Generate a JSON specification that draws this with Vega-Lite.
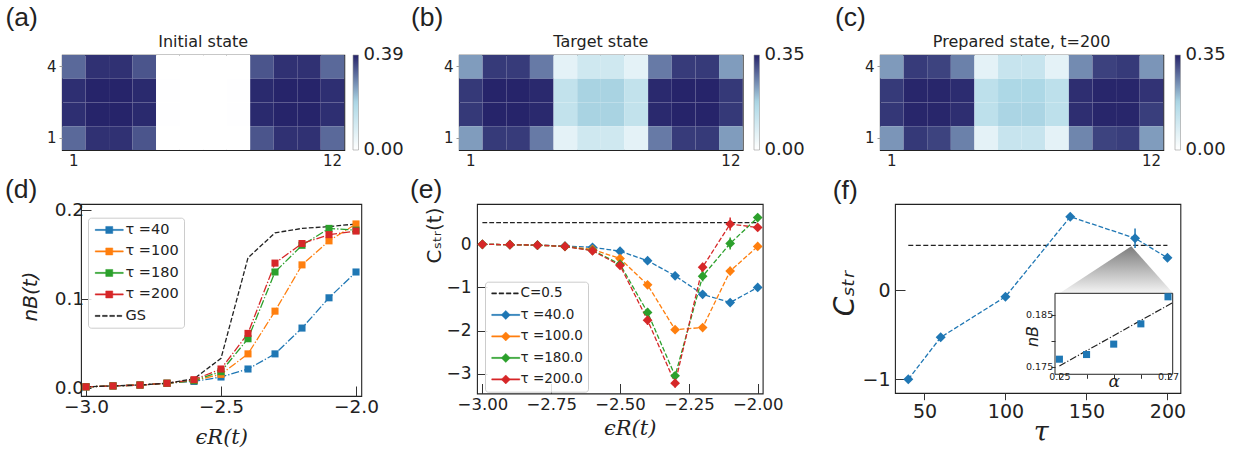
{
"$schema": "https://vega.github.io/schema/vega-lite/v6.json",
"background": "white",
"padding": {"left": 0, "top": 4, "right": 0, "bottom": 0},
"config": {
  "view": {"stroke": "#222222", "strokeWidth": 1.1},
  "axis": {"domain": false, "grid": false, "labelFont": "DejaVu Sans", "labelColor": "#222222", "tickColor": "#333333", "labelFlush": false, "labelOverlap": false, "titleFontWeight": "normal", "titleColor": "#222222", "titleFont": "DejaVu Sans"},
  "legend": {"labelFont": "DejaVu Sans", "labelColor": "#222222", "titleFontWeight": "normal"},
  "title": {"font": "DejaVu Sans", "fontWeight": "normal", "color": "#222222"}
},
"datasets": {
  "ha": [
    {"c":1,"r":4,"v":0.315},{"c":2,"r":4,"v":0.376},{"c":3,"r":4,"v":0.376},{"c":4,"r":4,"v":0.337},{"c":5,"r":4,"v":0},{"c":6,"r":4,"v":0},{"c":7,"r":4,"v":0},{"c":8,"r":4,"v":0},{"c":9,"r":4,"v":0.337},{"c":10,"r":4,"v":0.376},{"c":11,"r":4,"v":0.376},{"c":12,"r":4,"v":0.315},
    {"c":1,"r":3,"v":0.378},{"c":2,"r":3,"v":0.39},{"c":3,"r":3,"v":0.39},{"c":4,"r":3,"v":0.384},{"c":5,"r":3,"v":0.003},{"c":6,"r":3,"v":0},{"c":7,"r":3,"v":0},{"c":8,"r":3,"v":0.003},{"c":9,"r":3,"v":0.384},{"c":10,"r":3,"v":0.39},{"c":11,"r":3,"v":0.39},{"c":12,"r":3,"v":0.378},
    {"c":1,"r":2,"v":0.378},{"c":2,"r":2,"v":0.39},{"c":3,"r":2,"v":0.39},{"c":4,"r":2,"v":0.384},{"c":5,"r":2,"v":0.003},{"c":6,"r":2,"v":0},{"c":7,"r":2,"v":0},{"c":8,"r":2,"v":0.003},{"c":9,"r":2,"v":0.384},{"c":10,"r":2,"v":0.39},{"c":11,"r":2,"v":0.39},{"c":12,"r":2,"v":0.378},
    {"c":1,"r":1,"v":0.315},{"c":2,"r":1,"v":0.376},{"c":3,"r":1,"v":0.376},{"c":4,"r":1,"v":0.337},{"c":5,"r":1,"v":0},{"c":6,"r":1,"v":0},{"c":7,"r":1,"v":0},{"c":8,"r":1,"v":0},{"c":9,"r":1,"v":0.337},{"c":10,"r":1,"v":0.376},{"c":11,"r":1,"v":0.376},{"c":12,"r":1,"v":0.315}
  ],
  "hb": [
    {"c":1,"r":4,"v":0.233},{"c":2,"r":4,"v":0.329},{"c":3,"r":4,"v":0.328},{"c":4,"r":4,"v":0.266},{"c":5,"r":4,"v":0.058},{"c":6,"r":4,"v":0.103},{"c":7,"r":4,"v":0.103},{"c":8,"r":4,"v":0.058},{"c":9,"r":4,"v":0.266},{"c":10,"r":4,"v":0.328},{"c":11,"r":4,"v":0.329},{"c":12,"r":4,"v":0.233},
    {"c":1,"r":3,"v":0.33},{"c":2,"r":3,"v":0.35},{"c":3,"r":3,"v":0.35},{"c":4,"r":3,"v":0.345},{"c":5,"r":3,"v":0.13},{"c":6,"r":3,"v":0.18},{"c":7,"r":3,"v":0.18},{"c":8,"r":3,"v":0.13},{"c":9,"r":3,"v":0.345},{"c":10,"r":3,"v":0.35},{"c":11,"r":3,"v":0.35},{"c":12,"r":3,"v":0.33},
    {"c":1,"r":2,"v":0.33},{"c":2,"r":2,"v":0.35},{"c":3,"r":2,"v":0.35},{"c":4,"r":2,"v":0.345},{"c":5,"r":2,"v":0.13},{"c":6,"r":2,"v":0.18},{"c":7,"r":2,"v":0.18},{"c":8,"r":2,"v":0.13},{"c":9,"r":2,"v":0.345},{"c":10,"r":2,"v":0.35},{"c":11,"r":2,"v":0.35},{"c":12,"r":2,"v":0.33},
    {"c":1,"r":1,"v":0.233},{"c":2,"r":1,"v":0.329},{"c":3,"r":1,"v":0.328},{"c":4,"r":1,"v":0.266},{"c":5,"r":1,"v":0.058},{"c":6,"r":1,"v":0.103},{"c":7,"r":1,"v":0.103},{"c":8,"r":1,"v":0.058},{"c":9,"r":1,"v":0.266},{"c":10,"r":1,"v":0.328},{"c":11,"r":1,"v":0.329},{"c":12,"r":1,"v":0.233}
  ],
  "hc": [
    {"c":1,"r":4,"v":0.235},{"c":2,"r":4,"v":0.328},{"c":3,"r":4,"v":0.32},{"c":4,"r":4,"v":0.26},{"c":5,"r":4,"v":0.058},{"c":6,"r":4,"v":0.12},{"c":7,"r":4,"v":0.12},{"c":8,"r":4,"v":0.058},{"c":9,"r":4,"v":0.25},{"c":10,"r":4,"v":0.322},{"c":11,"r":4,"v":0.329},{"c":12,"r":4,"v":0.24},
    {"c":1,"r":3,"v":0.329},{"c":2,"r":3,"v":0.348},{"c":3,"r":3,"v":0.348},{"c":4,"r":3,"v":0.342},{"c":5,"r":3,"v":0.14},{"c":6,"r":3,"v":0.175},{"c":7,"r":3,"v":0.175},{"c":8,"r":3,"v":0.14},{"c":9,"r":3,"v":0.34},{"c":10,"r":3,"v":0.348},{"c":11,"r":3,"v":0.348},{"c":12,"r":3,"v":0.335},
    {"c":1,"r":2,"v":0.332},{"c":2,"r":2,"v":0.348},{"c":3,"r":2,"v":0.348},{"c":4,"r":2,"v":0.34},{"c":5,"r":2,"v":0.14},{"c":6,"r":2,"v":0.178},{"c":7,"r":2,"v":0.178},{"c":8,"r":2,"v":0.14},{"c":9,"r":2,"v":0.34},{"c":10,"r":2,"v":0.348},{"c":11,"r":2,"v":0.348},{"c":12,"r":2,"v":0.325},
    {"c":1,"r":1,"v":0.24},{"c":2,"r":1,"v":0.33},{"c":3,"r":1,"v":0.32},{"c":4,"r":1,"v":0.26},{"c":5,"r":1,"v":0.058},{"c":6,"r":1,"v":0.12},{"c":7,"r":1,"v":0.12},{"c":8,"r":1,"v":0.058},{"c":9,"r":1,"v":0.255},{"c":10,"r":1,"v":0.32},{"c":11,"r":1,"v":0.325},{"c":12,"r":1,"v":0.233}
  ],
  "dd": [
    {"s":"τ =40","x":-3.0,"y":0.001},{"s":"τ =40","x":-2.9,"y":0.002},{"s":"τ =40","x":-2.8,"y":0.003},{"s":"τ =40","x":-2.7,"y":0.005},{"s":"τ =40","x":-2.6,"y":0.007},{"s":"τ =40","x":-2.5,"y":0.012},{"s":"τ =40","x":-2.4,"y":0.021},{"s":"τ =40","x":-2.3,"y":0.038},{"s":"τ =40","x":-2.2,"y":0.067},{"s":"τ =40","x":-2.1,"y":0.101},{"s":"τ =40","x":-2.0,"y":0.130},
    {"s":"τ =100","x":-3.0,"y":0.001},{"s":"τ =100","x":-2.9,"y":0.002},{"s":"τ =100","x":-2.8,"y":0.003},{"s":"τ =100","x":-2.7,"y":0.005},{"s":"τ =100","x":-2.6,"y":0.008},{"s":"τ =100","x":-2.5,"y":0.015},{"s":"τ =100","x":-2.4,"y":0.038},{"s":"τ =100","x":-2.3,"y":0.086},{"s":"τ =100","x":-2.2,"y":0.138},{"s":"τ =100","x":-2.1,"y":0.165},{"s":"τ =100","x":-2.0,"y":0.184},
    {"s":"τ =180","x":-3.0,"y":0.001},{"s":"τ =180","x":-2.9,"y":0.002},{"s":"τ =180","x":-2.8,"y":0.003},{"s":"τ =180","x":-2.7,"y":0.005},{"s":"τ =180","x":-2.6,"y":0.008},{"s":"τ =180","x":-2.5,"y":0.018},{"s":"τ =180","x":-2.4,"y":0.055},{"s":"τ =180","x":-2.3,"y":0.130},{"s":"τ =180","x":-2.2,"y":0.160},{"s":"τ =180","x":-2.1,"y":0.179},{"s":"τ =180","x":-2.0,"y":0.177},
    {"s":"τ =200","x":-3.0,"y":0.001},{"s":"τ =200","x":-2.9,"y":0.002},{"s":"τ =200","x":-2.8,"y":0.003},{"s":"τ =200","x":-2.7,"y":0.005},{"s":"τ =200","x":-2.6,"y":0.009},{"s":"τ =200","x":-2.5,"y":0.021},{"s":"τ =200","x":-2.4,"y":0.061},{"s":"τ =200","x":-2.3,"y":0.140},{"s":"τ =200","x":-2.2,"y":0.162},{"s":"τ =200","x":-2.1,"y":0.172},{"s":"τ =200","x":-2.0,"y":0.176},
    {"s":"GS","x":-3.0,"y":0.001},{"s":"GS","x":-2.9,"y":0.002},{"s":"GS","x":-2.8,"y":0.003},{"s":"GS","x":-2.7,"y":0.005},{"s":"GS","x":-2.6,"y":0.010},{"s":"GS","x":-2.5,"y":0.033},{"s":"GS","x":-2.4,"y":0.146},{"s":"GS","x":-2.3,"y":0.174},{"s":"GS","x":-2.2,"y":0.179},{"s":"GS","x":-2.1,"y":0.181},{"s":"GS","x":-2.0,"y":0.184}
  ],
  "ee": [
    {"s":"τ =40.0","x":-3.0,"y":0},{"s":"τ =40.0","x":-2.9,"y":-0.01},{"s":"τ =40.0","x":-2.8,"y":-0.02},{"s":"τ =40.0","x":-2.7,"y":-0.04},{"s":"τ =40.0","x":-2.6,"y":-0.07},{"s":"τ =40.0","x":-2.5,"y":-0.16},{"s":"τ =40.0","x":-2.4,"y":-0.38},{"s":"τ =40.0","x":-2.3,"y":-0.73},{"s":"τ =40.0","x":-2.2,"y":-1.16},{"s":"τ =40.0","x":-2.1,"y":-1.35},{"s":"τ =40.0","x":-2.0,"y":-1.0},
    {"s":"τ =100.0","x":-3.0,"y":0},{"s":"τ =100.0","x":-2.9,"y":-0.01},{"s":"τ =100.0","x":-2.8,"y":-0.02},{"s":"τ =100.0","x":-2.7,"y":-0.05},{"s":"τ =100.0","x":-2.6,"y":-0.12},{"s":"τ =100.0","x":-2.5,"y":-0.33},{"s":"τ =100.0","x":-2.4,"y":-0.94},{"s":"τ =100.0","x":-2.3,"y":-1.98},{"s":"τ =100.0","x":-2.2,"y":-1.93},{"s":"τ =100.0","x":-2.1,"y":-0.62},{"s":"τ =100.0","x":-2.0,"y":-0.05},
    {"s":"τ =180.0","x":-3.0,"y":0},{"s":"τ =180.0","x":-2.9,"y":-0.01},{"s":"τ =180.0","x":-2.8,"y":-0.02},{"s":"τ =180.0","x":-2.7,"y":-0.05},{"s":"τ =180.0","x":-2.6,"y":-0.14},{"s":"τ =180.0","x":-2.5,"y":-0.46},{"s":"τ =180.0","x":-2.4,"y":-1.58},{"s":"τ =180.0","x":-2.3,"y":-3.05},{"s":"τ =180.0","x":-2.2,"y":-0.74},{"s":"τ =180.0","x":-2.1,"y":0.02},{"s":"τ =180.0","x":-2.0,"y":0.62},
    {"s":"τ =200.0","x":-3.0,"y":0},{"s":"τ =200.0","x":-2.9,"y":-0.01},{"s":"τ =200.0","x":-2.8,"y":-0.02},{"s":"τ =200.0","x":-2.7,"y":-0.05},{"s":"τ =200.0","x":-2.6,"y":-0.15},{"s":"τ =200.0","x":-2.5,"y":-0.49},{"s":"τ =200.0","x":-2.4,"y":-1.76},{"s":"τ =200.0","x":-2.3,"y":-3.22},{"s":"τ =200.0","x":-2.2,"y":-0.53},{"s":"τ =200.0","x":-2.1,"y":0.47},{"s":"τ =200.0","x":-2.0,"y":0.39}
  ],
  "eref": [{"s":"C=0.5","x":-3.0,"y":0.5},{"s":"C=0.5","x":-2.0,"y":0.5}],
  "eerr": [
    {"s":"τ =100.0","x":-2.1,"y":-0.72,"y2":-0.52},
    {"s":"τ =180.0","x":-2.4,"y":-1.68,"y2":-1.48},
    {"s":"τ =180.0","x":-2.3,"y":-3.14,"y2":-2.96},
    {"s":"τ =180.0","x":-2.2,"y":-0.86,"y2":-0.62},
    {"s":"τ =180.0","x":-2.1,"y":-0.12,"y2":0.16},
    {"s":"τ =180.0","x":-2.0,"y":0.54,"y2":0.7},
    {"s":"τ =200.0","x":-2.4,"y":-1.87,"y2":-1.65},
    {"s":"τ =200.0","x":-2.3,"y":-3.32,"y2":-3.12},
    {"s":"τ =200.0","x":-2.2,"y":-0.63,"y2":-0.43},
    {"s":"τ =200.0","x":-2.1,"y":0.32,"y2":0.62}
  ],
  "ff": [{"x":40,"y":-1.0},{"x":60,"y":-0.53},{"x":100,"y":-0.075},{"x":140,"y":0.82},{"x":180,"y":0.58},{"x":200,"y":0.36}],
  "fref": [{"x":40,"y":0.5},{"x":200,"y":0.5}],
  "ferr": [{"x":180,"y":0.47,"y2":0.69}],
  "tri": [{"x":133.4,"y":-0.035,"b":-0.035},{"x":177.7,"y":0.49,"b":-0.035},{"x":203.5,"y":-0.035,"b":-0.035}],
  "ins": [{"a":0.25,"n":0.1765},{"a":0.255,"n":0.1774},{"a":0.26,"n":0.1794},{"a":0.265,"n":0.1833},{"a":0.27,"n":0.1885}],
  "ifit": [{"a":0.25,"n":0.1752},{"a":0.2709,"n":0.1874}],
  "iframe": [{"a":0.24919,"a2":0.270866,"n":0.1736,"n2":0.18917}]
},
"spacing": 7,
"resolve": {"scale": {"color": "independent", "fill": "independent", "shape": "independent", "stroke": "independent"}, "legend": {"color": "independent", "fill": "independent", "shape": "independent", "stroke": "independent"}},
"vconcat": [
 {"hconcat": [
  {"width": 61.7, "height": 1, "data": {"values": [{}]}, "mark": {"type": "point", "opacity": 0}, "view": {"stroke": null},
   "title": {"text": "(a)", "anchor": "start", "frame": "group", "dx": 5.5, "offset": 0, "dy": -0.5, "baseline": "alphabetic", "font": "Liberation Sans", "fontSize": 26.5}},
  {"width": 282.3, "height": 95, "data": {"name": "ha"},
   "title": {"text": "Initial state", "fontSize": 16, "offset": 0, "dy": 7.5, "baseline": "alphabetic", "anchor": "middle", "frame": "group"},
   "mark": "rect",
   "encoding": {
     "x": {"field": "c", "type": "ordinal", "axis": {"values": [1, 12], "labelAngle": 0, "title": null, "labelFontSize": 15, "ticks": false, "labelPadding": 3}},
     "y": {"field": "r", "type": "ordinal", "sort": "descending", "axis": {"values": [1, 4], "title": null, "labelFontSize": 15, "tickSize": 3, "tickColor": "#999999", "labelPadding": 3}},
     "color": {"field": "v", "type": "quantitative", "scale": {"domain": [0, 0.39], "range": ["#ffffff", "#add8e6", "#26246a"], "interpolate": "rgb"},
       "legend": {"title": null, "values": [0, 0.39], "format": ".2f", "gradientLength": 95, "gradientThickness": 5.5, "labelFontSize": 18, "offset": 8, "labelOffset": 5, "gradientStrokeColor": "#999999", "gradientStrokeWidth": 0.6, "labelOverlap": false, "encode": {"labels": {"update": {"baseline": {"value": "middle"}}}}}}
   }},
  {"width": 113.3, "height": 1, "data": {"values": [{}]}, "mark": {"type": "point", "opacity": 0}, "view": {"stroke": null},
   "title": {"text": "(b)", "anchor": "start", "frame": "group", "dx": 66, "offset": 0, "dy": -0.5, "baseline": "alphabetic", "font": "Liberation Sans", "fontSize": 26.5}},
  {"width": 283.7, "height": 95, "data": {"name": "hb"},
   "title": {"text": "Target state", "fontSize": 16, "offset": 0, "dy": 7.5, "baseline": "alphabetic", "anchor": "middle", "frame": "group"},
   "mark": "rect",
   "encoding": {
     "x": {"field": "c", "type": "ordinal", "axis": {"values": [1, 12], "labelAngle": 0, "title": null, "labelFontSize": 15, "ticks": false, "labelPadding": 3}},
     "y": {"field": "r", "type": "ordinal", "sort": "descending", "axis": {"values": [1, 4], "title": null, "labelFontSize": 15, "tickSize": 3, "tickColor": "#999999", "labelPadding": 3}},
     "color": {"field": "v", "type": "quantitative", "scale": {"domain": [0, 0.35], "range": ["#ffffff", "#add8e6", "#26246a"], "interpolate": "rgb"},
       "legend": {"title": null, "values": [0, 0.35], "format": ".2f", "gradientLength": 95, "gradientThickness": 5.5, "labelFontSize": 18, "offset": 11, "labelOffset": 5, "gradientStrokeColor": "#999999", "gradientStrokeWidth": 0.6, "labelOverlap": false, "encode": {"labels": {"update": {"baseline": {"value": "middle"}}}}}}
   }},
  {"width": 136.7, "height": 1, "data": {"values": [{}]}, "mark": {"type": "point", "opacity": 0}, "view": {"stroke": null},
   "title": {"text": "(c)", "anchor": "start", "frame": "group", "dx": 92, "offset": 0, "dy": -0.5, "baseline": "alphabetic", "font": "Liberation Sans", "fontSize": 26.5}},
  {"width": 283.3, "height": 95, "data": {"name": "hc"},
   "title": {"text": "Prepared state, t=200", "fontSize": 16, "offset": 0, "dy": 7.5, "baseline": "alphabetic", "anchor": "middle", "frame": "group"},
   "mark": "rect",
   "encoding": {
     "x": {"field": "c", "type": "ordinal", "axis": {"values": [1, 12], "labelAngle": 0, "title": null, "labelFontSize": 15, "ticks": false, "labelPadding": 3}},
     "y": {"field": "r", "type": "ordinal", "sort": "descending", "axis": {"values": [1, 4], "title": null, "labelFontSize": 15, "tickSize": 3, "tickColor": "#999999", "labelPadding": 3}},
     "color": {"field": "v", "type": "quantitative", "scale": {"domain": [0, 0.35], "range": ["#ffffff", "#add8e6", "#26246a"], "interpolate": "rgb"},
       "legend": {"title": null, "values": [0, 0.35], "format": ".2f", "gradientLength": 95, "gradientThickness": 5.5, "labelFontSize": 18, "offset": 10.7, "labelOffset": 5, "gradientStrokeColor": "#999999", "gradientStrokeWidth": 0.6, "labelOverlap": false, "encode": {"labels": {"update": {"baseline": {"value": "middle"}}}}}}
   }}
 ],
 "bounds": "flush", "spacing": 0,
 "resolve": {"scale": {"color": "independent", "fill": "independent", "shape": "independent", "stroke": "independent"}, "legend": {"color": "independent", "fill": "independent", "shape": "independent", "stroke": "independent"}}},

 {"hconcat": [
  {"width": 80.7, "height": 1, "data": {"values": [{}]}, "mark": {"type": "point", "opacity": 0}, "view": {"stroke": null},
   "title": {"text": "(d)", "anchor": "start", "frame": "group", "dx": 5, "offset": 0, "dy": 22.5, "baseline": "alphabetic", "font": "Liberation Sans", "fontSize": 26.5}},
  {"width": 280.3, "height": 192, "data": {"name": "dd"},
   "encoding": {
     "x": {"field": "x", "type": "quantitative", "scale": {"domain": [-3.0185, -1.9804], "nice": false, "zero": false},
       "axis": {"values": [-3, -2.5, -2], "format": ".1f", "labelFontSize": 18.5, "tickSize": -10, "labelPadding": 11, "title": "ϵR(t)", "titleFont": "DejaVu Serif", "titleFontStyle": "italic", "titleFontSize": 21, "titleX": 140.3, "titleY": 41.7, "titleBaseline": "middle", "titleAlign": "center"}},
     "y": {"field": "y", "type": "quantitative", "scale": {"domain": [-0.00933, 0.2064], "nice": false, "zero": false},
       "axis": {"values": [0, 0.1, 0.2], "format": ".1f", "labelFontSize": 18.5, "tickSize": -10, "labelPadding": 7.4, "title": "nB(t)", "titleFontStyle": "italic", "titleFontSize": 20, "titleX": -50.7, "titleY": 92, "titleAngle": 270, "titleAlign": "center", "titleBaseline": "middle"}},
     "color": {"field": "s", "type": "nominal", "scale": {"domain": ["τ =40", "τ =100", "τ =180", "τ =200", "GS"], "range": ["#1f77b4", "#ff7f0e", "#2ca02c", "#d62728", "#222222"]}, "legend": null}
   },
   "layer": [
     {"transform": [{"filter": "false"}], "mark": {"type": "point", "filled": true, "opacity": 1},
      "encoding": {
        "color": {"value": "#888888"},
        "fill": {"field": "s", "type": "nominal", "scale": {"domain": ["τ =40", "τ =100", "τ =180", "τ =200", "GS"], "range": ["#1f77b4", "#ff7f0e", "#2ca02c", "#d62728", "#222222"]},
          "legend": {"title": null, "orient": "none", "legendX": 7, "legendY": 13.7, "labelFontSize": 14.5, "symbolSize": 100, "symbolOffset": 9, "labelOffset": 9, "padding": 5, "rowPadding": 6.5, "fillColor": "rgba(255,255,255,0.85)", "strokeColor": "#cccccc", "cornerRadius": 3, "symbolStrokeWidth": 0.5, "symbolOpacity": 1}},
        "stroke": {"field": "s", "type": "nominal", "scale": {"domain": ["τ =40", "τ =100", "τ =180", "τ =200", "GS"], "range": ["#1f77b4", "#ff7f0e", "#2ca02c", "#d62728", "#222222"]}},
        "shape": {"field": "s", "type": "nominal", "scale": {"domain": ["τ =40", "τ =100", "τ =180", "τ =200", "GS"], "range": ["M-2.8,-0.12H2.8V0.12H-2.8ZM-0.7,-0.7H0.7V0.7H-0.7Z", "M-2.8,-0.12H2.8V0.12H-2.8ZM-0.7,-0.7H0.7V0.7H-0.7Z", "M-2.8,-0.12H2.8V0.12H-2.8ZM-0.7,-0.7H0.7V0.7H-0.7Z", "M-2.8,-0.12H2.8V0.12H-2.8ZM-0.7,-0.7H0.7V0.7H-0.7Z", "M-2.8,-0.12H-1.85V0.12H-2.8ZM-1.35,-0.12H-0.4V0.12H-1.35ZM0.1,-0.12H1.05V0.12H0.1ZM1.55,-0.12H2.5V0.12H1.55Z"]}}
      }},
     {"transform": [{"filter": "datum.s !== 'GS'"}], "mark": {"type": "line", "strokeWidth": 1.3, "strokeDash": [8, 2, 1.3, 2]}},
     {"transform": [{"filter": "datum.s === 'GS'"}], "mark": {"type": "line", "strokeWidth": 1.3, "strokeDash": [4.8, 2.1]}},
     {"transform": [{"filter": "datum.s !== 'GS'"}], "mark": {"type": "point", "shape": "square", "filled": true, "size": 50, "opacity": 1}}
   ]},
  {"width": 114.3, "height": 1, "data": {"values": [{}]}, "mark": {"type": "point", "opacity": 0}, "view": {"stroke": null},
   "title": {"text": "(e)", "anchor": "start", "frame": "group", "dx": 48, "offset": 0, "dy": 22.5, "baseline": "alphabetic", "font": "Liberation Sans", "fontSize": 26.5}},
  {"width": 285.7, "height": 189.5,
   "encoding": {
     "x": {"field": "x", "type": "quantitative", "scale": {"domain": [-3.0196, -1.9818], "nice": false, "zero": false},
       "axis": {"values": [-3, -2.75, -2.5, -2.25, -2], "format": ".2f", "labelFontSize": 16.5, "tickSize": -10, "labelPadding": 13, "title": "ϵR(t)", "titleFont": "DejaVu Serif", "titleFontStyle": "italic", "titleFontSize": 21, "titleX": 152.7, "titleY": 35.3, "titleBaseline": "middle", "titleAlign": "center"}},
     "y": {"field": "y", "type": "quantitative", "scale": {"domain": [-3.459, 0.934], "nice": false, "zero": false},
       "axis": {"values": [-3, -2, -1, 0], "format": "d", "labelFontSize": 17, "tickSize": -10, "labelPadding": 16, "title": "Cₛₜᵣ(t)", "titleFontSize": 20, "titleX": -42.3, "titleY": 31, "titleAngle": 270, "titleAlign": "center", "titleBaseline": "middle"}},
     "color": {"field": "s", "type": "nominal", "scale": {"domain": ["C=0.5", "τ =40.0", "τ =100.0", "τ =180.0", "τ =200.0"], "range": ["#222222", "#1f77b4", "#ff7f0e", "#2ca02c", "#d62728"]}, "legend": null}
   },
   "layer": [
     {"data": {"name": "ee"}, "transform": [{"filter": "false"}], "mark": {"type": "point", "filled": true, "opacity": 1},
      "encoding": {
        "color": {"value": "#888888"},
        "fill": {"field": "s", "type": "nominal", "scale": {"domain": ["C=0.5", "τ =40.0", "τ =100.0", "τ =180.0", "τ =200.0"], "range": ["#222222", "#1f77b4", "#ff7f0e", "#2ca02c", "#d62728"]},
          "legend": {"title": null, "orient": "none", "legendX": 8, "legendY": 77.7, "labelFontSize": 13.5, "symbolSize": 100, "symbolOffset": 9, "labelOffset": 8, "padding": 5, "rowPadding": 6.5, "fillColor": "rgba(255,255,255,0.85)", "strokeColor": "#cccccc", "cornerRadius": 3, "symbolStrokeWidth": 0.5, "symbolOpacity": 1}},
        "stroke": {"field": "s", "type": "nominal", "scale": {"domain": ["C=0.5", "τ =40.0", "τ =100.0", "τ =180.0", "τ =200.0"], "range": ["#222222", "#1f77b4", "#ff7f0e", "#2ca02c", "#d62728"]}},
        "shape": {"field": "s", "type": "nominal", "scale": {"domain": ["C=0.5", "τ =40.0", "τ =100.0", "τ =180.0", "τ =200.0"], "range": ["M-2.8,-0.12H-1.85V0.12H-2.8ZM-1.35,-0.12H-0.4V0.12H-1.35ZM0.1,-0.12H1.05V0.12H0.1ZM1.55,-0.12H2.5V0.12H1.55Z", "M-2.8,-0.12H2.8V0.12H-2.8ZM0,-0.9L0.9,0L0,0.9L-0.9,0Z", "M-2.8,-0.12H2.8V0.12H-2.8ZM0,-0.9L0.9,0L0,0.9L-0.9,0Z", "M-2.8,-0.12H2.8V0.12H-2.8ZM0,-0.9L0.9,0L0,0.9L-0.9,0Z", "M-2.8,-0.12H2.8V0.12H-2.8ZM0,-0.9L0.9,0L0,0.9L-0.9,0Z"]}}
      }},
     {"data": {"name": "eref"}, "mark": {"type": "line", "strokeWidth": 1.3, "strokeDash": [4.8, 2.1]}},
     {"data": {"name": "ee"}, "mark": {"type": "line", "strokeWidth": 1.3, "strokeDash": [4.8, 2.1]}},
     {"data": {"name": "eerr"}, "mark": {"type": "rule", "strokeWidth": 1.5}, "encoding": {"y2": {"field": "y2"}}},
     {"data": {"name": "ee"}, "mark": {"type": "point", "shape": "diamond", "filled": true, "size": 95, "opacity": 1}}
   ]},
  {"width": 131.3, "height": 1, "data": {"values": [{}]}, "mark": {"type": "point", "opacity": 0}, "view": {"stroke": null},
   "title": {"text": "(f)", "anchor": "start", "frame": "group", "dx": 69.7, "offset": 0, "dy": 23.5, "baseline": "alphabetic", "font": "Liberation Sans", "fontSize": 26.5}},
  {"width": 285.4, "height": 189,
   "resolve": {"scale": {"x": "independent", "y": "independent"}, "axis": {"x": "independent", "y": "independent"}},
   "layer": [
     {"encoding": {
        "x": {"field": "x", "type": "quantitative", "scale": {"domain": [31.8, 208], "nice": false, "zero": false},
          "axis": {"orient": "bottom", "values": [50, 100, 150, 200], "format": "d", "labelFontSize": 19, "tickSize": 6.7, "labelPadding": 2.5, "title": "τ", "titleFont": "DejaVu Serif", "titleFontStyle": "italic", "titleFontSize": 27, "titleX": 145.7, "titleY": 39.7, "titleBaseline": "middle", "titleAlign": "center"}},
        "y": {"field": "y", "type": "quantitative", "scale": {"domain": [-1.153, 0.963], "nice": false, "zero": false},
          "axis": {"orient": "left", "values": [-1, 0], "format": "d", "labelFontSize": 19, "tickSize": -10, "labelPadding": 15, "title": "Cₛₜᵣ", "titleFontStyle": "italic", "titleFontSize": 28, "titleX": -49.3, "titleY": 89, "titleAngle": 270, "titleAlign": "center", "titleBaseline": "middle"}}
      },
      "layer": [
        {"data": {"name": "tri"}, "mark": {"type": "area", "interpolate": "linear", "color": {"gradient": "linear", "x1": 0, "y1": 0, "x2": 0, "y2": 1, "stops": [{"offset": 0, "color": "#7c7c7c"}, {"offset": 1, "color": "#f4f4f4"}]}},
         "encoding": {"y2": {"field": "b"}}},
        {"data": {"name": "fref"}, "mark": {"type": "line", "color": "#222222", "strokeWidth": 1.3, "strokeDash": [5, 2.5]}},
        {"data": {"name": "ff"}, "mark": {"type": "line", "color": "#1f77b4", "strokeWidth": 1.3, "strokeDash": [4.8, 2.1]}},
        {"data": {"name": "ferr"}, "mark": {"type": "rule", "color": "#1f77b4", "strokeWidth": 1.5}, "encoding": {"y2": {"field": "y2"}}},
        {"data": {"name": "ff"}, "mark": {"type": "point", "shape": "diamond", "filled": true, "size": 100, "color": "#1f77b4", "opacity": 1}}
      ]},
     {"encoding": {
        "x": {"field": "a", "type": "quantitative", "scale": {"domain": [0.21972, 0.272284], "nice": false, "zero": false},
          "axis": {"orient": "bottom", "offset": -18.7, "zindex": 1, "values": [0.25, 0.255, 0.26, 0.265, 0.27], "labelExpr": "datum.value < 0.2525 || datum.value > 0.2675 ? format(datum.value, '.2f') : ''", "labelFontSize": 9.5, "tickSize": 4, "labelPadding": -2, "labelBaseline": "middle", "title": "α", "titleFont": "DejaVu Serif", "titleFontStyle": "italic", "titleFontSize": 17, "titleX": 218.7, "titleY": 6.7, "titleBaseline": "middle", "titleAlign": "center"}},
        "y": {"field": "n", "type": "quantitative", "scale": {"domain": [0.170, 0.206345], "nice": false, "zero": false},
          "axis": {"orient": "left", "offset": -160, "zindex": 1, "values": [0.175, 0.18, 0.185], "labelExpr": "datum.value < 0.1775 || datum.value > 0.1825 ? format(datum.value, '.3f') : ''", "labelFontSize": 9.5, "tickSize": 4, "labelPadding": -1.7, "title": "nB", "titleFontStyle": "italic", "titleFontSize": 16, "titleX": -22.3, "titleY": 132, "titleAngle": 270, "titleAlign": "center", "titleBaseline": "middle"}}
      },
      "layer": [
        {"data": {"name": "iframe"}, "mark": {"type": "rect", "fill": "white", "stroke": "#222222", "strokeWidth": 1},
         "encoding": {"x2": {"field": "a2"}, "y2": {"field": "n2"}}},
        {"data": {"name": "ifit"}, "mark": {"type": "line", "color": "#222222", "strokeWidth": 1.2, "strokeDash": [7, 2, 1.2, 2]}},
        {"data": {"name": "ins"}, "mark": {"type": "point", "shape": "square", "filled": true, "size": 50, "color": "#1f77b4", "opacity": 1}}
      ]}
   ]}
 ],
 "bounds": "flush", "spacing": 0,
 "resolve": {"scale": {"color": "independent", "fill": "independent", "shape": "independent", "stroke": "independent"}, "legend": {"color": "independent", "fill": "independent", "shape": "independent", "stroke": "independent"}}}
]
}
